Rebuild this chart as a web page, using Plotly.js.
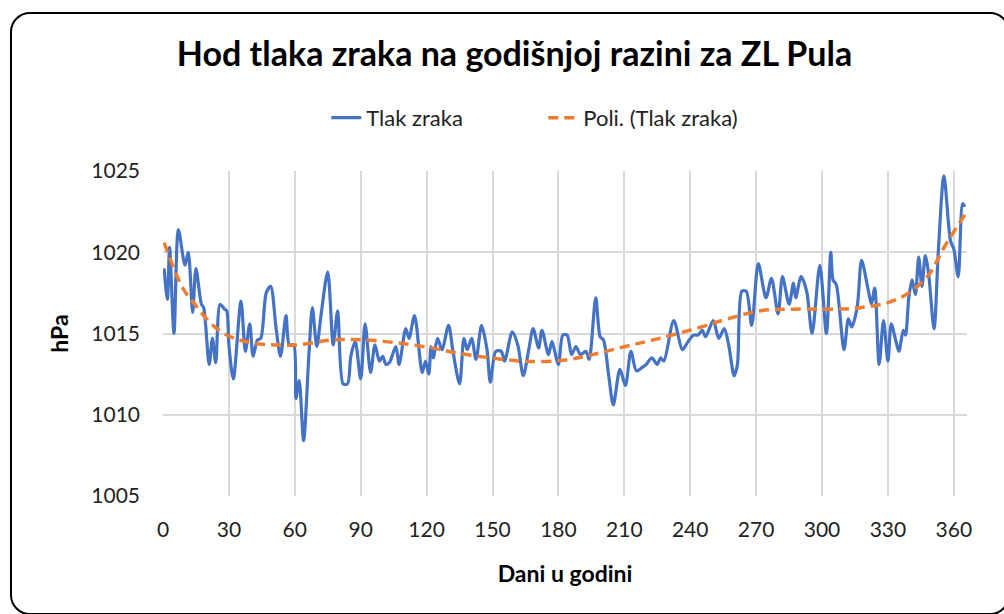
<!DOCTYPE html>
<html>
<head>
<meta charset="utf-8">
<script src="https://cdn.plot.ly/plotly-3.0.1.min.js"></script>
<style>
  html, body { margin: 0; padding: 0; background: #fff; overflow: hidden; }
  #frame { position: absolute; left: 10px; top: 12px; width: 1000px; height: 603px;
           box-sizing: border-box; border: 2px solid #000; border-radius: 20px; pointer-events: none; }
  #chart { position: absolute; left: 0; top: 0; width: 1004px; height: 614px; }
</style>
</head>
<body>
<div id="frame"></div>
<div id="chart"></div>
<script>
// Daily air pressure (hPa): day of year and value
const days = [0.5, 2, 3, 5, 7, 10, 11.5, 13.5, 15, 17.5, 18.5, 21, 22.5, 24, 26, 28, 29, 30, 32, 35.5,
  37.5, 39.5, 41, 43, 44.5, 47, 49, 51.5, 53.5, 56, 57.5, 59.5, 60.5, 62, 64, 66.5, 68, 70, 72, 75,
  77.5, 79.5, 82, 84, 85.5, 87.5, 90, 92, 94.5, 96.5, 98.5, 100, 101.5, 103, 106, 107.5, 110.5, 112, 114.5, 118,
  119.5, 121, 122, 123, 125, 127, 130, 132, 135, 137, 138.5, 140.5, 142.5, 145, 147.5, 149, 151.5, 154, 155.5, 159,
  161.5, 164, 166.5, 168.5, 171, 172.5, 175.5, 177, 180, 182, 184, 186, 188, 190, 192.5, 194, 197, 199, 200.5, 203,
  205, 208, 210.5, 213, 215.5, 218, 220, 222.5, 225, 226.5, 228, 232.5, 236.5, 239, 241.5, 243.5, 245.5, 247, 250.5, 253,
  255.5, 257.5, 260, 261.5, 263.5, 265.5, 268, 271, 274.5, 277, 280, 282, 285, 287, 288, 290.5, 293, 295.5, 299, 302,
  304, 305, 306.5, 310, 312, 313.5, 316, 318, 321, 322.5, 324, 326, 328, 330, 331.5, 333.5, 335, 337, 338, 339.5,
  341, 342.5, 344, 345.5, 347, 348.5, 351, 353, 355.5, 358.5, 360, 362, 364, 365];
const pressure = [1019.0, 1017.1, 1020.3, 1015.0, 1021.4, 1019.2, 1020.0, 1016.3, 1019.0, 1016.8, 1016.6, 1013.1, 1014.7, 1013.2, 1016.8, 1016.5, 1016.4, 1014.3, 1012.2, 1017.0,
  1013.9, 1015.6, 1013.6, 1014.6, 1014.7, 1017.5, 1017.9, 1015.3, 1013.6, 1016.1, 1014.3, 1014.3, 1011.0, 1012.1, 1008.4, 1013.9, 1016.6, 1014.2, 1016.2, 1018.8,
  1014.3, 1016.4, 1011.9, 1011.9, 1013.6, 1014.5, 1012.2, 1015.6, 1012.6, 1014.3, 1013.3, 1013.6, 1013.1, 1013.2, 1014.2, 1013.1, 1015.3, 1014.7, 1016.1, 1012.6,
  1013.3, 1012.5, 1014.2, 1013.5, 1014.7, 1014.0, 1015.5, 1013.9, 1011.9, 1014.7, 1014.0, 1014.7, 1013.4, 1015.5, 1014.0, 1012.0, 1013.9, 1013.9, 1013.3, 1015.1,
  1014.3, 1012.4, 1014.0, 1015.3, 1014.1, 1015.2, 1013.7, 1014.5, 1013.1, 1014.9, 1014.9, 1013.7, 1014.2, 1013.7, 1013.9, 1013.4, 1017.2, 1014.8, 1014.6, 1012.3,
  1010.6, 1012.8, 1011.8, 1013.9, 1012.7, 1012.9, 1013.1, 1013.5, 1013.1, 1013.5, 1013.3, 1015.8, 1014.0, 1014.5, 1014.9, 1014.9, 1015.2, 1014.8, 1015.8, 1014.7,
  1015.3, 1014.3, 1012.4, 1013.1, 1017.6, 1017.6, 1015.5, 1019.3, 1017.2, 1018.4, 1016.2, 1018.5, 1016.8, 1018.1, 1017.2, 1018.5, 1017.6, 1015.0, 1019.2, 1015.0,
  1020.0, 1018.3, 1018.0, 1014.0, 1015.9, 1015.4, 1016.6, 1019.5, 1017.7, 1016.8, 1017.8, 1013.1, 1015.8, 1013.3, 1015.6, 1014.6, 1013.9, 1015.2, 1014.9, 1017.2,
  1018.3, 1017.4, 1019.7, 1017.9, 1019.8, 1018.7, 1015.3, 1020.2, 1024.7, 1020.7, 1020.2, 1018.5, 1023.0, 1022.8];

// Polynomial trend line ("Poli.")
const trendDays = [0.5, 9, 14.5, 20.5, 26.5, 32.5, 41.5, 51, 61, 77, 92, 108, 123, 134, 149, 164, 182, 195.5, 210.5, 226,
  245, 257, 272, 287, 307, 318, 330, 339.5, 348.5, 356, 365];
const trendValues = [1020.6, 1017.8, 1016.8, 1015.8, 1015.1, 1014.7, 1014.4, 1014.3, 1014.3, 1014.6, 1014.6, 1014.4, 1014.1, 1013.8, 1013.5, 1013.3, 1013.35, 1013.7, 1014.2, 1014.7,
  1015.4, 1015.9, 1016.4, 1016.5, 1016.5, 1016.6, 1016.9, 1017.5, 1018.6, 1020.4, 1022.3];

const xTicks = [0, 30, 60, 90, 120, 150, 180, 210, 240, 270, 300, 330, 360];
const yTicks = [1005, 1010, 1015, 1020, 1025];

const FONT = 'Lato, "Open Sans", sans-serif';

const traces = [
  {
    x: days, y: pressure, type: 'scatter', mode: 'lines', name: 'Tlak zraka',
    line: { color: '#4472C4', width: 3.2, shape: 'spline', smoothing: 0.8 },
    hoverinfo: 'x+y'
  },
  {
    x: trendDays, y: trendValues, type: 'scatter', mode: 'lines', name: 'Poli. (Tlak zraka)',
    line: { color: '#ED7D31', width: 3.5, dash: '10px,6px', shape: 'spline', smoothing: 1 },
    hoverinfo: 'x+y'
  }
];

const layout = {
  width: 1004, height: 614,
  paper_bgcolor: 'rgba(0,0,0,0)', plot_bgcolor: 'rgba(0,0,0,0)',
  margin: { l: 163, r: 37, t: 171, b: 118 },
  font: { family: FONT, color: '#222' },
  title: {
    text: 'Hod tlaka zraka na godišnjoj razini za ZL Pula',
    font: { family: FONT, size: 34, weight: 'bold', color: '#000' },
    x: 0.5125, xref: 'container', xanchor: 'center',
    y: 0.912, yref: 'container', yanchor: 'middle'
  },
  showlegend: true,
  legend: {
    orientation: 'h', xref: 'container', yref: 'container',
    x: 0.325, xanchor: 'left', y: 0.808, yanchor: 'middle',
    entrywidth: 172, entrywidthmode: 'pixels',
    font: { family: FONT, size: 22, color: '#222' },
    bgcolor: 'rgba(0,0,0,0)'
  },
  xaxis: {
    range: [0, 366], tickmode: 'array', tickvals: xTicks, ticktext: xTicks.map(String),
    showgrid: true, gridcolor: '#d9d9d9', gridwidth: 1.5,
    zeroline: false, showline: false, ticks: '',
    tickfont: { family: FONT, size: 21, color: '#222' },
    ticklabelstandoff: 19,
    title: { text: 'Dani u godini', font: { family: FONT, size: 23, weight: 'bold', color: '#000' }, standoff: 25 }
  },
  yaxis: {
    range: [1005, 1025], tickmode: 'array', tickvals: yTicks, ticktext: yTicks.map(String),
    showgrid: true, gridcolor: '#d9d9d9', gridwidth: 1.5,
    zeroline: false, showline: false, ticks: '',
    tickfont: { family: FONT, size: 21, color: '#222' },
    ticklabelstandoff: 22,
    title: { text: 'hPa', font: { family: FONT, size: 23, weight: 'bold', color: '#000' }, standoff: 16 }
  }
};

Plotly.newPlot('chart', traces, layout, { displayModeBar: false });
</script>
</body>
</html>
